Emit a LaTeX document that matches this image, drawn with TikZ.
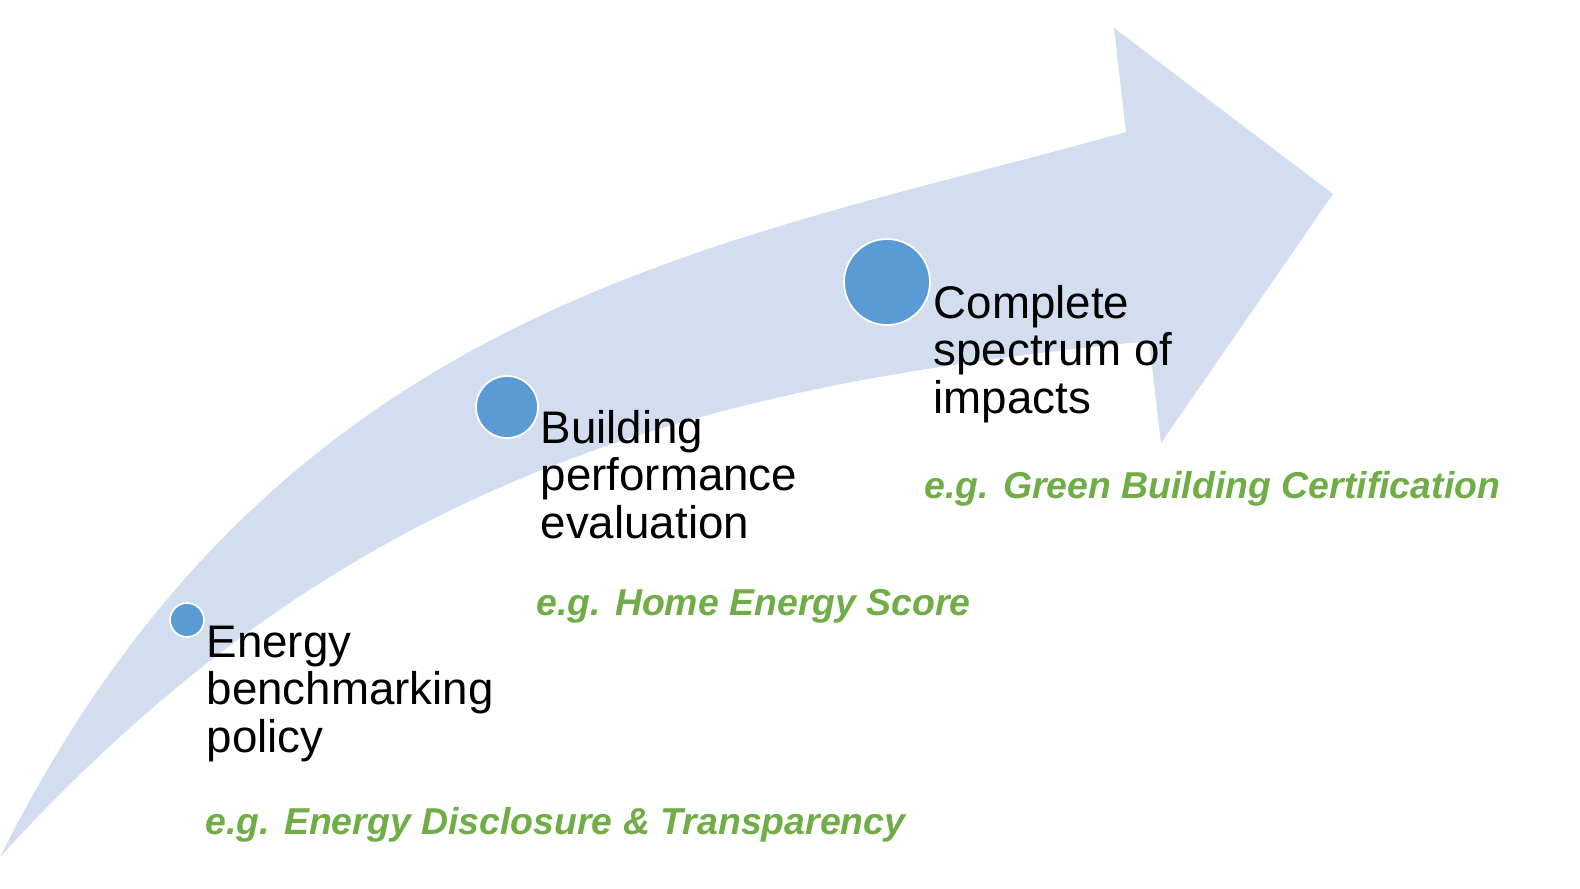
\documentclass[tikz,border=0pt]{standalone}
\usepackage{fontspec}
\setmainfont{Liberation Sans}
\usepackage{tikz}

\definecolor{arrowblue}{RGB}{210,222,239}
\definecolor{dotblue}{RGB}{91,155,213}
\definecolor{leafgreen}{RGB}{112,173,71}

\begin{document}
\begin{tikzpicture}[
    stagedot/.style={circle, fill=dotblue, draw=white, line width=0.5pt, inner sep=0pt},
    stagetext/.style={anchor=base west, align=left, inner sep=0pt, font=\fontsize{13}{13.4}\selectfont},
    egtext/.style={anchor=base west, inner sep=0pt, text=leafgreen, font=\fontsize{10.65}{12}\selectfont\bfseries\itshape}]
		    \useasboundingbox (0,0) rectangle (15.8,8.88);
		    \begin{scope}
					\coordinate (tail) at (0,0.31);
					\coordinate (shafttop) at (11.26,7.56);
					\coordinate (headtop) at (11.14,8.60);
					\coordinate (tip) at (13.33,6.94);
					\coordinate (headbot) at (11.61,4.45);
					\coordinate (shaftbot) at (11.49,5.47);

					\fill[arrowblue] (tail) .. controls (2.80,5.90) and (7.20,6.42) .. (shafttop) -- (headtop) -- (tip) -- (headbot) -- (shaftbot) .. controls (6.99,5.02) and (3.50,4.15) .. (tail) -- cycle; % freccia

					\node[stagedot, minimum size=0.34cm] (dot1) at (1.87,2.68) {};
					\node[stagedot, minimum size=0.62cm] (dot2) at (5.07,4.81) {};
					\node[stagedot, minimum size=0.86cm] (dot3) at (8.87,6.06) {};

					\node[stagetext] (stage1) at (2.06,1.36) {Energy\\benchmarking\\policy};
					\node[stagetext] (stage2) at (5.40,3.50) {Building\\performance\\evaluation};
					\node[stagetext] (stage3) at (9.33,4.75) {Complete\\spectrum of\\impacts};

					\node[egtext] (eg1) at (2.05,0.54) {e.g. Energy Disclosure \& Transparency};
					\node[egtext] (eg2) at (5.36,2.73) {e.g. Home Energy Score};
					\node[egtext] (eg3) at (9.24,3.90) {e.g. Green Building Certification};
		    \end{scope}
		  \end{tikzpicture}
\end{document}
